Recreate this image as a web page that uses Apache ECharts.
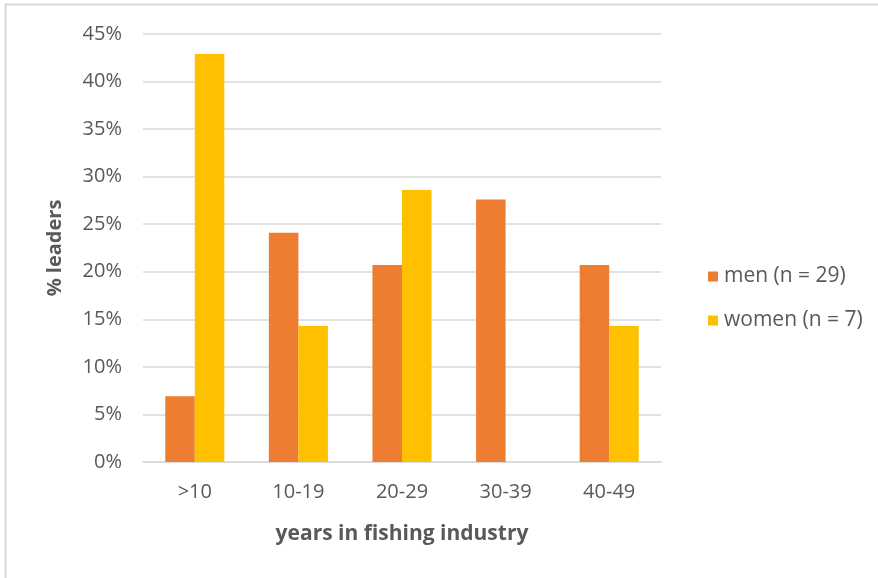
<!DOCTYPE html>
<html>
<head>
<meta charset="utf-8">
<script src="https://cdn.jsdelivr.net/npm/echarts@6/dist/echarts.min.js"></script>
<style>
html,body{margin:0;padding:0;background:#fff;}
#chart{width:878px;height:578px;}
</style>
</head>
<body>
<div id="chart"></div>
<script>
// Share of leaders by years spent in the fishing industry
const categories = ['>10', '10-19', '20-29', '30-39', '40-49'];
const menLabel = 'men (n = 29)';
const womenLabel = 'women (n = 7)';
const menValues = [0.069, 0.241, 0.207, 0.276, 0.207];
const womenValues = [0.429, 0.143, 0.286, 0, 0.143];

const FONT = '"Open Sans", Lato, sans-serif';
const chart = echarts.init(document.getElementById('chart'), null, {renderer: 'canvas'});

chart.setOption({
  animation: false,
  backgroundColor: '#fff',
  textStyle: {fontFamily: FONT},
  graphic: [{
    type: 'rect',
    shape: {x: 5.5, y: 4.5, width: 900, height: 600},
    style: {fill: 'none', stroke: '#d9d9d9', lineWidth: 2}
  }],
  grid: {left: 143, right: 217, top: 34, bottom: 116},
  legend: {
    orient: 'vertical',
    left: 703,
    top: 261,
    itemWidth: 10,
    itemHeight: 10,
    itemGap: 23,
    icon: 'rect',
    textStyle: {color: '#595959', fontSize: 21, fontFamily: FONT, padding: [0, 0, 0, 1]},
    data: [menLabel, womenLabel]
  },
  xAxis: {
    type: 'category',
    data: categories,
    name: 'years in fishing industry',
    nameLocation: 'middle',
    nameGap: 62,
    nameTextStyle: {color: '#595959', fontSize: 21, fontWeight: 'bold', fontFamily: FONT},
    axisLine: {lineStyle: {color: '#d9d9d9', width: 1.5}},
    axisTick: {show: false},
    axisLabel: {color: '#595959', fontSize: 20, margin: 20, fontFamily: FONT}
  },
  yAxis: {
    type: 'value',
    min: 0,
    max: 0.45,
    interval: 0.05,
    name: '% leaders',
    nameLocation: 'middle',
    nameGap: 78,
    nameTextStyle: {color: '#595959', fontSize: 20, fontWeight: 'bold', fontFamily: FONT},
    axisLine: {show: false},
    axisTick: {show: false},
    splitLine: {lineStyle: {color: '#d9d9d9', width: 1.5}},
    axisLabel: {
      color: '#595959', fontSize: 20, margin: 21, fontFamily: FONT,
      formatter: v => Math.round(v * 100) + '%'
    }
  },
  series: [
    {
      name: menLabel,
      type: 'bar',
      data: menValues,
      barWidth: '28.5%',
      barGap: '0%',
      itemStyle: {color: '#ed7d31'}
    },
    {
      name: womenLabel,
      type: 'bar',
      data: womenValues,
      barWidth: '28.5%',
      itemStyle: {color: '#ffc000'}
    }
  ]
});
</script>
</body>
</html>
